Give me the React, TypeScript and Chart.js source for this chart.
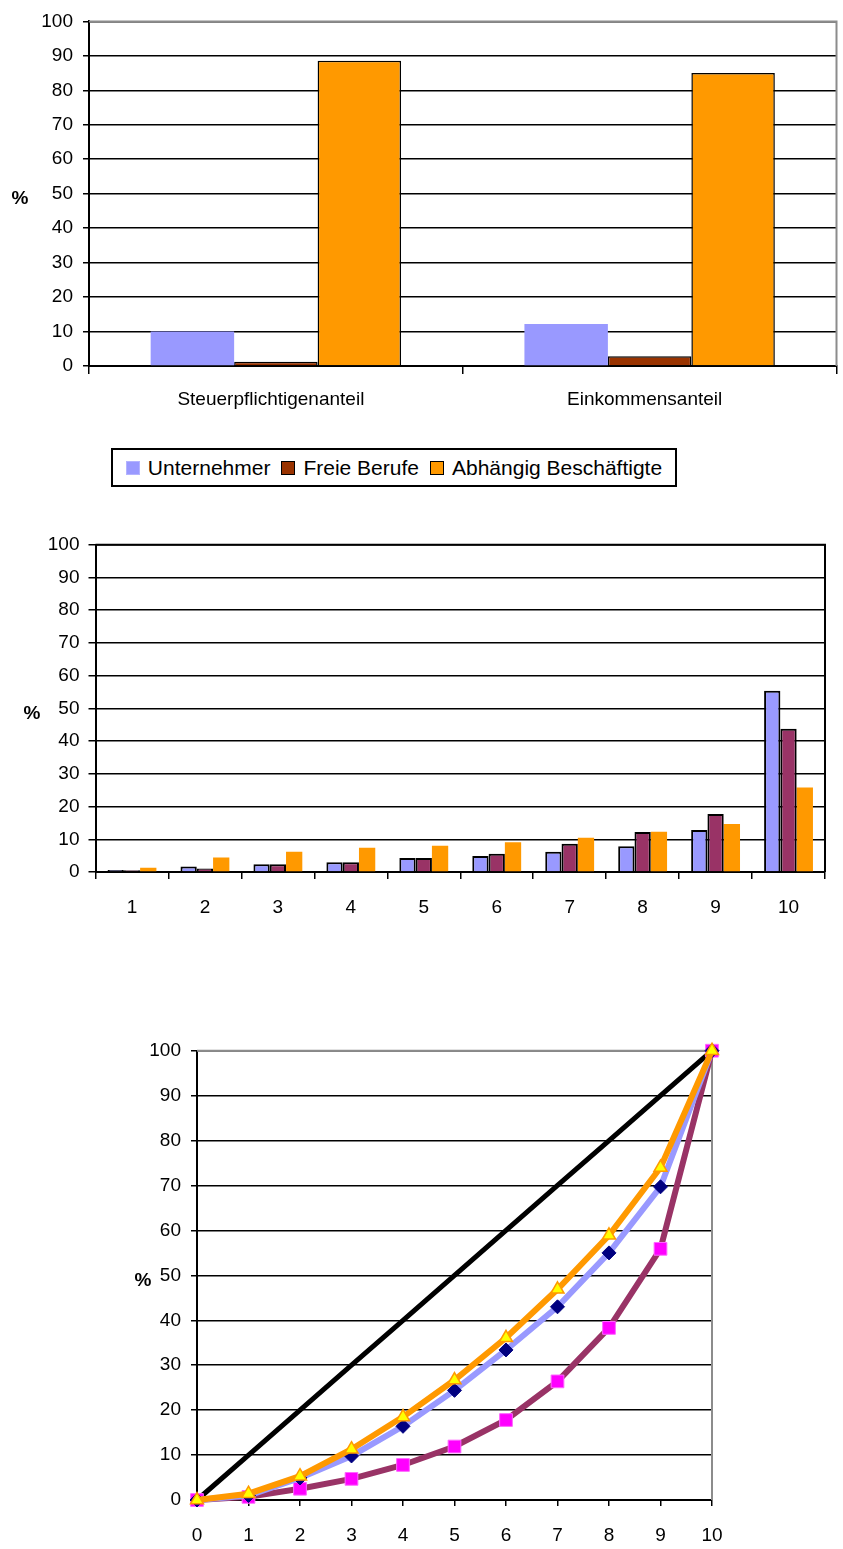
import React, { useEffect, useRef } from 'react';
import { Chart, registerables } from 'chart.js';

Chart.register(...registerables);

// ---------- Data ----------
const seriesNames = ['Unternehmer', 'Freie Berufe', 'Abhängig Beschäftigte'];

const shareCategories = ['Steuerpflichtigenanteil', 'Einkommensanteil'];
const shareUnternehmer = [10.0, 12.2];
const shareFreieBerufe = [1.2, 2.8];
const shareAbhaengig = [88.6, 85.0];

const decileLabels = ['1', '2', '3', '4', '5', '6', '7', '8', '9', '10'];
const decileUnternehmer = [0.6, 1.7, 2.4, 3.0, 4.3, 4.9, 6.2, 7.9, 12.8, 55.4];
const decileFreieBerufe = [0.5, 1.1, 2.4, 3.0, 4.3, 5.6, 8.6, 12.2, 17.7, 43.8];
const decileAbhaengig = [1.3, 4.4, 6.2, 7.4, 8.0, 9.1, 10.5, 12.3, 14.7, 25.8];

const lorenzLabels = ['0', '1', '2', '3', '4', '5', '6', '7', '8', '9', '10'];
const lorenzGleichverteilung = [0, 10, 20, 30, 40, 50, 60, 70, 80, 90, 100];
const lorenzUnternehmer = [0, 1.0, 4.9, 9.8, 16.4, 24.4, 33.4, 43.0, 55.0, 69.7, 100];
const lorenzFreieBerufe = [0, 0.7, 2.5, 4.7, 7.8, 11.9, 17.8, 26.4, 38.3, 55.9, 100];
const lorenzAbhaengig = [0, 1.4, 5.3, 11.3, 18.5, 26.7, 36.1, 46.9, 58.9, 74.0, 100];

const yMin = 0;
const yMax = 100;
const yStep = 10;
const axisTitle = '%';

// ---------- Styles ----------
const FONT = '"Liberation Sans", Arial, sans-serif';
const C_BLUE = '#9999FF';
const C_BROWN = '#993300';
const C_PLUM = '#993366';
const C_ORANGE = '#FF9900';

Chart.defaults.font.family = FONT;
Chart.defaults.font.size = 19;
Chart.defaults.color = '#000';

const framePlugin = {
  id: 'frame',
  beforeDatasetsDraw(chart: any, _args: any, opts: any) {
    const { ctx, chartArea: a } = chart;
    ctx.save();
    ctx.strokeStyle = opts.color || '#000';
    ctx.lineWidth = opts.width || 2;
    ctx.beginPath();
    ctx.moveTo(a.left, a.top);
    ctx.lineTo(a.right, a.top);
    ctx.lineTo(a.right, a.bottom);
    ctx.stroke();
    ctx.restore();
  },
  afterDraw(chart: any, _args: any, opts: any) {
    const { ctx, chartArea: a } = chart;
    ctx.save();
    ctx.font = `bold 19px ${FONT}`;
    ctx.fillStyle = '#000';
    ctx.textAlign = 'center';
    ctx.textBaseline = 'middle';
    ctx.fillText(axisTitle, opts.x, (a.top + a.bottom) / 2 + 5);
    ctx.restore();
  },
};

function yScale(width: number, tickLen: number, pad: number) {
  return {
    min: yMin,
    max: yMax,
    ticks: { stepSize: yStep, padding: pad, color: '#000', font: { size: 19 } },
    grid: { color: '#000', lineWidth: 1.5, tickLength: tickLen, drawTicks: true },
    border: { display: true, color: '#000', width: 2 },
    afterFit: (s: any) => {
      s.width = width;
    },
  };
}

function xScale(height: number, tickLen: number, pad: number, offset: boolean, labelOffset = 0) {
  return {
    offset,
    ticks: { padding: pad, color: '#000', font: { size: 19 }, maxRotation: 0, autoSkip: false, labelOffset },
    grid: { offset, drawOnChartArea: false, drawTicks: true, tickLength: tickLen, color: '#000', lineWidth: 1.5 },
    border: { display: true, color: '#000', width: 2 },
    afterFit: (s: any) => {
      s.height = height;
    },
  };
}

export default function App() {
  const c1 = useRef<HTMLCanvasElement>(null);
  const c2 = useRef<HTMLCanvasElement>(null);
  const c3 = useRef<HTMLCanvasElement>(null);

  useEffect(() => {
    const charts: Chart[] = [];

    charts.push(
      new Chart(c1.current as HTMLCanvasElement, {
        type: 'bar',
        data: {
          labels: shareCategories,
          datasets: [
            { label: seriesNames[0], data: shareUnternehmer, backgroundColor: C_BLUE, borderWidth: 0 },
            { label: seriesNames[1], data: shareFreieBerufe, backgroundColor: C_BROWN, borderColor: '#000', borderWidth: 1.5 },
            { label: seriesNames[2], data: shareAbhaengig, backgroundColor: C_ORANGE, borderColor: '#000', borderWidth: 1.5 },
          ],
        },
        options: {
          responsive: false,
          animation: false,
          layout: { padding: { top: 16, right: 6.5, left: 0, bottom: 0 } },
          datasets: { bar: { categoryPercentage: 0.67, barPercentage: 1.0 } },
          scales: {
            x: xScale(64, 8, 14, true, -5),
            y: yScale(89, 6, 10),
          },
          plugins: {
            legend: { display: false },
            tooltip: { enabled: false },
            frame: { color: '#8c8c8c', width: 2, x: 20 },
          } as any,
        },
        plugins: [framePlugin],
      } as any)
    );

    charts.push(
      new Chart(c2.current as HTMLCanvasElement, {
        type: 'bar',
        data: {
          labels: decileLabels,
          datasets: [
            { label: seriesNames[0], data: decileUnternehmer, backgroundColor: C_BLUE, borderColor: '#000', borderWidth: 2 },
            { label: seriesNames[1], data: decileFreieBerufe, backgroundColor: C_PLUM, borderColor: '#000', borderWidth: 2 },
            { label: seriesNames[2], data: decileAbhaengig, backgroundColor: C_ORANGE, borderWidth: 0 },
          ],
        },
        options: {
          responsive: false,
          animation: false,
          layout: { padding: { top: 34.7, right: 18, left: 0, bottom: 0 } },
          datasets: { bar: { categoryPercentage: 0.67, barPercentage: 1.0 } },
          scales: {
            x: xScale(58, 7, 17, true),
            y: yScale(95.5, 7, 9),
          },
          plugins: {
            legend: { display: false },
            tooltip: { enabled: false },
            frame: { color: '#000', width: 2, x: 32 },
          } as any,
        },
        plugins: [framePlugin],
      } as any)
    );

    charts.push(
      new Chart(c3.current as HTMLCanvasElement, {
        type: 'line',
        data: {
          labels: lorenzLabels,
          datasets: [
            {
              label: seriesNames[2],
              data: lorenzAbhaengig,
              borderColor: C_ORANGE,
              borderWidth: 6,
              pointStyle: 'triangle',
              pointRadius: 7.5,
              pointBackgroundColor: '#FFFF00',
              pointBorderColor: C_ORANGE,
              pointBorderWidth: 1.5,
              order: 0,
              clip: false,
            },
            {
              label: seriesNames[0],
              data: lorenzUnternehmer,
              borderColor: C_BLUE,
              borderWidth: 6,
              pointStyle: 'rectRot',
              pointRadius: 7,
              pointBackgroundColor: '#000080',
              pointBorderColor: '#000080',
              pointBorderWidth: 1,
              order: 1,
              clip: false,
            },
            {
              label: seriesNames[1],
              data: lorenzFreieBerufe,
              borderColor: C_PLUM,
              borderWidth: 6,
              pointStyle: 'rect',
              pointRadius: 9,
              pointBackgroundColor: '#FF00FF',
              pointBorderColor: '#FF66FF',
              pointBorderWidth: 1,
              order: 2,
              clip: false,
            },
            {
              label: 'Gleichverteilung',
              data: lorenzGleichverteilung,
              borderColor: '#000',
              borderWidth: 5,
              pointRadius: 0,
              order: 3,
              clip: false,
            },
          ],
        },
        options: {
          responsive: false,
          animation: false,
          layout: { padding: { top: 30.7, right: 131, left: 0, bottom: 0 } },
          elements: { line: { tension: 0 } },
          scales: {
            x: xScale(49, 6, 18, false),
            y: yScale(197, 6, 10),
          },
          plugins: {
            legend: { display: false },
            tooltip: { enabled: false },
            frame: { color: '#8c8c8c', width: 2, x: 143 },
          } as any,
        },
        plugins: [framePlugin],
      } as any)
    );

    return () => {
      charts.forEach((c) => c.destroy());
    };
  }, []);

  const swatch = (color: string, border: string) => (
    <span
      style={{
        display: 'inline-block',
        width: 14,
        height: 14,
        background: color,
        border: `1.5px solid ${border}`,
        boxSizing: 'border-box',
        marginRight: 8,
      }}
    />
  );

  const legendColors = [
    [C_BLUE, '#b3b3ff'],
    [C_BROWN, '#000'],
    [C_ORANGE, '#000'],
  ];

  return (
    <div style={{ position: 'absolute', left: 0, top: 0, width: 843, height: 1549, background: '#fff' }}>
      <canvas ref={c1} width={843} height={430} style={{ position: 'absolute', left: 0, top: 0 }} />
      <div
        style={{
          position: 'absolute',
          left: 111,
          top: 448,
          width: 566,
          height: 39,
          border: '2px solid #000',
          boxSizing: 'border-box',
          display: 'flex',
          alignItems: 'center',
          justifyContent: 'center',
          fontFamily: FONT,
          fontSize: 21,
          color: '#000',
          whiteSpace: 'nowrap',
        }}
      >
        {seriesNames.map((name, i) => (
          <span key={name} style={{ display: 'inline-flex', alignItems: 'center', marginRight: i < 2 ? 11 : 0 }}>
            {swatch(legendColors[i][0], legendColors[i][1])}
            {name}
          </span>
        ))}
      </div>
      <canvas ref={c2} width={843} height={420} style={{ position: 'absolute', left: 0, top: 510 }} />
      <canvas ref={c3} width={843} height={529} style={{ position: 'absolute', left: 0, top: 1020 }} />
    </div>
  );
}
